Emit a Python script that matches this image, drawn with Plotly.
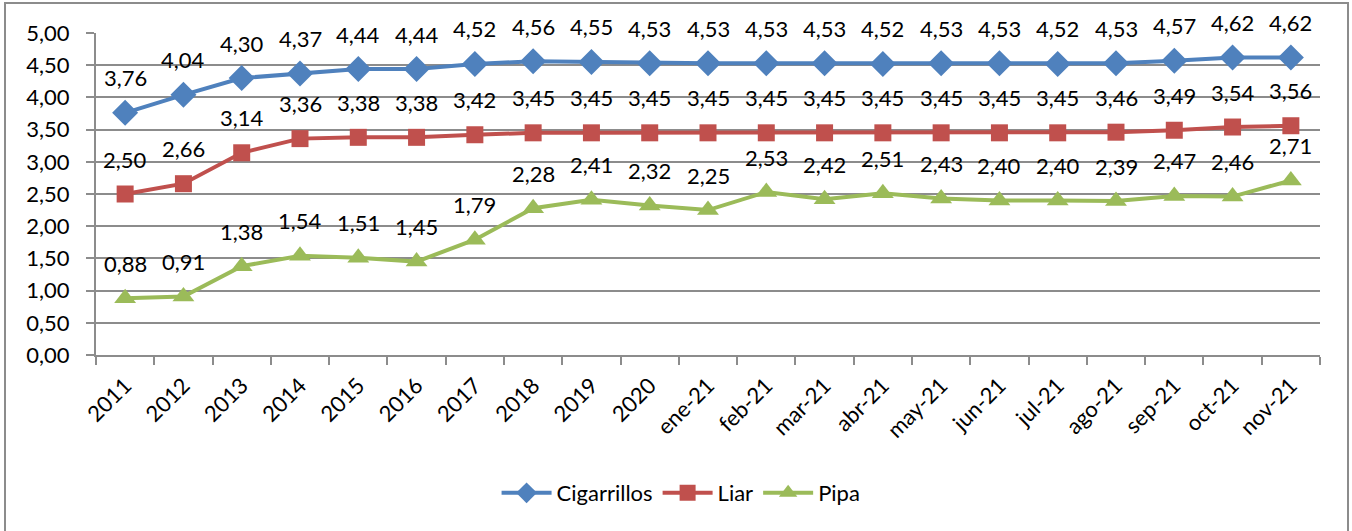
import plotly.graph_objects as go

categories = ["2011", "2012", "2013", "2014", "2015", "2016", "2017", "2018", "2019", "2020",
              "ene-21", "feb-21", "mar-21", "abr-21", "may-21", "jun-21", "jul-21", "ago-21",
              "sep-21", "oct-21", "nov-21"]
cigarrillos = [3.76, 4.04, 4.30, 4.37, 4.44, 4.44, 4.52, 4.56, 4.55, 4.53, 4.53, 4.53, 4.53,
               4.52, 4.53, 4.53, 4.52, 4.53, 4.57, 4.62, 4.62]
liar = [2.50, 2.66, 3.14, 3.36, 3.38, 3.38, 3.42, 3.45, 3.45, 3.45, 3.45, 3.45, 3.45, 3.45,
        3.45, 3.45, 3.45, 3.46, 3.49, 3.54, 3.56]
pipa = [0.88, 0.91, 1.38, 1.54, 1.51, 1.45, 1.79, 2.28, 2.41, 2.32, 2.25, 2.53, 2.42, 2.51,
        2.43, 2.40, 2.40, 2.39, 2.47, 2.46, 2.71]

series = [
    ("Cigarrillos", cigarrillos, "#4F81BD", "diamond", 20),
    ("Liar", liar, "#C0504D", "square", 17),
    ("Pipa", pipa, "#9BBB59", "triangle-up", 19),
]

FONT = "Lato, Open Sans, sans-serif"
FS = 22

fig = go.Figure()
annotations = []
for name, vals, color, sym, size in series:
    fig.add_trace(go.Scatter(
        x=categories, y=vals, name=name, mode="lines+markers",
        line=dict(color=color, width=4),
        marker=dict(symbol=sym, size=size, color=color),
        cliponaxis=False,
    ))
    for i, v in enumerate(vals):
        annotations.append(dict(
            x=i, y=v, xref="x", yref="y", text=f"{v:.2f}".replace(".", ","),
            showarrow=False, yshift=35, yanchor="middle", xanchor="center",
            font=dict(size=FS, color="black", family=FONT),
        ))

L, R, T, B = 96, 1320, 33, 355
W, H = 1352, 531
pw, ph = R - L, B - T

fig.update_layout(
    width=W, height=H,
    margin=dict(l=L, r=W - R, t=T, b=H - B),
    paper_bgcolor="white", plot_bgcolor="white",
    separators=",.",
    font=dict(family=FONT, size=FS, color="black"),
    showlegend=True,
    legend=dict(orientation="h", x=0.478, xanchor="center", y=(B - 493) / ph, yanchor="middle",
                font=dict(size=FS), traceorder="normal", itemwidth=50),
    xaxis=dict(type="category", showgrid=False, showline=True, linecolor="#8c8c8c", linewidth=2,
               ticks="outside", tickson="boundaries", ticklen=8, tickcolor="#8c8c8c", tickwidth=2,
               tickangle=-45, tickfont=dict(size=FS), range=[-0.5, 20.5], ticklabelstandoff=7),
    yaxis=dict(range=[0, 5], dtick=0.5, tickformat=".2f", showgrid=True, gridcolor="#8c8c8c",
               gridwidth=1.5, showline=True, linecolor="#8c8c8c", linewidth=2, ticks="outside",
               ticklen=8, tickcolor="#8c8c8c", tickwidth=2, zeroline=False,
               tickfont=dict(size=FS), ticklabelstandoff=12),
    annotations=annotations,
    shapes=[dict(type="rect", xref="paper", yref="paper",
                 x0=(5 - L) / pw, x1=(1348 - L) / pw, y0=(B - 545) / ph, y1=(B - 3) / ph,
                 line=dict(color="#8c8c8c", width=2), fillcolor="rgba(0,0,0,0)", layer="below")],
)

fig.write_html("out.html", config={"displayModeBar": False},
               post_script="document.body.style.margin='0';document.body.style.overflow='hidden';")
